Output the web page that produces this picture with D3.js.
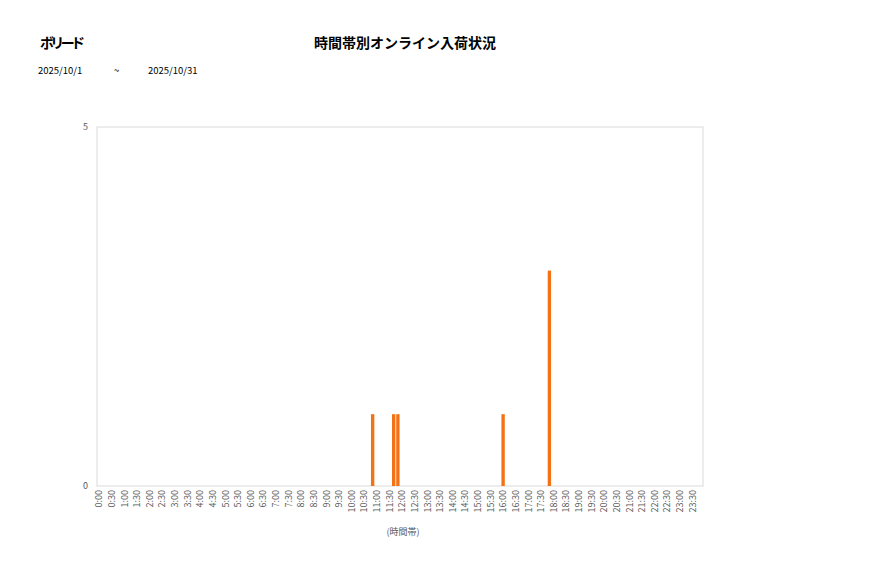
<!DOCTYPE html>
<html>
<head>
<meta charset="utf-8">
<script src="https://cdn.jsdelivr.net/npm/d3@7"></script>
<style>
  body { margin: 0; background: #fff; }
  text { font-family: "Noto Sans CJK JP", "Noto Sans", sans-serif; }
</style>
</head>
<body>
<script>
// 10-minute slots across the day, labelled every 30 minutes
const slots = [];
for (let hr = 0; hr < 24; hr++) {
  for (let m = 0; m < 60; m += 10) slots.push(hr + ":" + (m < 10 ? "0" + m : m));
}
const tickLabels = slots.filter((s, i) => i % 3 === 0);

// only the slots that had arrivals
const arrivalSlots = ["10:50", "11:40", "11:50", "16:00", "17:50"];
const arrivalCounts = [1, 1, 1, 1, 3];

const yTicks = [0, 5];

const w = 877, h = 578;
const plotLeft = 97, plotRight = 703, plotTop = 127, plotBottom = 486;

const svg = d3.select("body").append("svg")
  .attr("width", w)
  .attr("height", h);

svg.append("text")
  .attr("x", 40).attr("y", 48)
  .style("font-size", "14px").style("font-weight", "bold")
  .attr("textLength", 45)
  .text("ボリード");

svg.append("text")
  .attr("x", 405).attr("y", 48)
  .attr("text-anchor", "middle")
  .style("font-size", "14px").style("font-weight", "bold")
  .text("時間帯別オンライン入荷状況");

svg.append("text").attr("x", 38).attr("y", 74).style("font-size", "9.5px").text("2025/10/1");
svg.append("text").attr("x", 114).attr("y", 74).style("font-size", "9.5px").text("~");
svg.append("text").attr("x", 148).attr("y", 74).style("font-size", "9.5px").text("2025/10/31");

const x = d3.scaleBand()
  .domain(slots)
  .range([plotLeft, plotRight])
  .paddingInner(0.2)
  .paddingOuter(0.1);

const y = d3.scaleLinear()
  .domain([0, 5])
  .range([plotBottom, plotTop]);

// plot frame
svg.append("rect")
  .attr("x", plotLeft).attr("y", plotTop)
  .attr("width", plotRight - plotLeft).attr("height", plotBottom - plotTop)
  .attr("fill", "none")
  .attr("stroke", "#d9d9d9");

svg.selectAll(".bar")
  .data(arrivalSlots)
  .enter()
  .append("rect")
  .attr("class", "bar")
  .attr("x", d => x(d))
  .attr("width", x.bandwidth())
  .attr("y", (d, i) => y(arrivalCounts[i]))
  .attr("height", (d, i) => y(0) - y(arrivalCounts[i]))
  .attr("fill", "#f47216");

const xAxis = d3.axisBottom(x)
  .tickValues(tickLabels)
  .tickSize(0)
  .tickPadding(4);

const gx = svg.append("g")
  .attr("transform", "translate(0," + plotBottom + ")")
  .call(xAxis);
gx.select(".domain").remove();
gx.selectAll("text")
  .attr("transform", "rotate(-90)")
  .attr("x", -4)
  .attr("y", 0)
  .attr("dy", "0.35em")
  .style("text-anchor", "end")
  .style("font-size", "9px")
  .style("font-family", "'Noto Sans CJK JP', sans-serif")
  .attr("fill", "#595959");

const yAxis = d3.axisLeft(y)
  .tickValues(yTicks)
  .tickFormat(d3.format("d"))
  .tickSize(0)
  .tickPadding(9);

const gy = svg.append("g")
  .attr("transform", "translate(" + plotLeft + ",0)")
  .call(yAxis);
gy.select(".domain").remove();
gy.selectAll("text")
  .style("font-size", "9px")
  .style("font-family", "'Noto Sans CJK JP', sans-serif")
  .attr("fill", "#595959");

svg.append("text")
  .attr("x", 403).attr("y", 535)
  .attr("text-anchor", "middle")
  .style("font-size", "9px")
  .attr("fill", "#595959")
  .text("(時間帯)");
</script>
</body>
</html>
